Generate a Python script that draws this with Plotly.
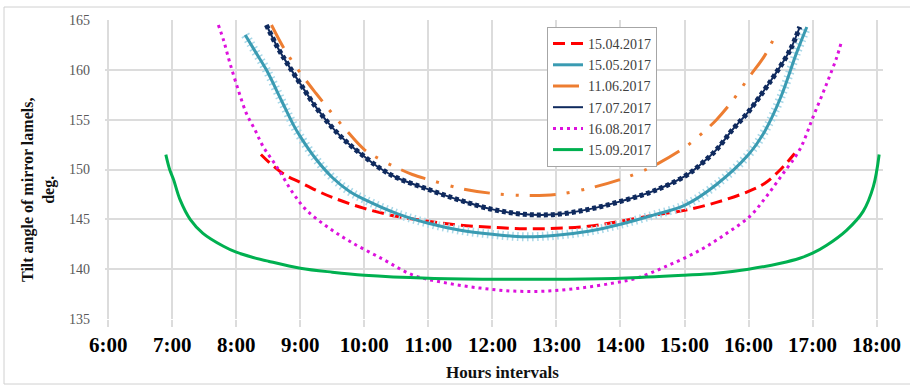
import plotly.graph_objects as go

# ---- data (hours as decimal, tilt angle in degrees) ----
hour_ticks = [6, 7, 8, 9, 10, 11, 12, 13, 14, 15, 16, 17, 18]
hour_labels = ["6:00", "7:00", "8:00", "9:00", "10:00", "11:00", "12:00",
               "13:00", "14:00", "15:00", "16:00", "17:00", "18:00"]

t_0415 = [8.385, 8.5, 8.75, 9.0, 9.25, 9.5, 10.0, 10.5, 11.0, 11.5, 12.0, 12.5,
          13.0, 13.5, 14.0, 14.5, 15.0, 15.5, 16.0, 16.25, 16.5, 16.72]
v_0415 = [151.5, 150.8, 149.5, 148.7, 147.9, 147.2, 146.1, 145.3, 144.8, 144.4, 144.2, 144.05,
          144.1, 144.3, 144.8, 145.4, 145.9, 146.7, 147.8, 148.6, 150.0, 151.6]

t_0515 = [8.14, 8.3, 8.47, 8.7, 8.89, 9.0, 9.25, 9.5, 9.77, 10.0, 10.5, 11.0, 11.5, 12.0,
          12.5, 13.0, 13.5, 14.0, 14.5, 15.0, 15.5, 16.0, 16.25, 16.5, 16.75, 16.91]
v_0515 = [163.5, 161.8, 160.0, 157.0, 154.5, 153.3, 151.0, 149.2, 147.8, 147.0, 145.6, 144.6, 143.9, 143.5,
          143.25, 143.4, 143.8, 144.5, 145.4, 146.4, 148.5, 151.5, 153.8, 157.2, 161.7, 164.3]

t_0611 = [8.55, 8.75, 9.0, 9.25, 9.5, 9.75, 10.0, 10.25, 10.5, 10.75, 11.0, 11.5, 12.0, 12.5,
          13.0, 13.5, 14.0, 14.25, 14.5, 15.0, 15.25, 15.5, 15.75, 16.0, 16.25, 16.45]
v_0611 = [164.5, 162.1, 159.7, 157.6, 155.6, 153.7, 152.0, 151.0, 150.2, 149.5, 149.0, 148.1, 147.6, 147.4,
          147.5, 148.1, 149.0, 149.6, 150.3, 152.2, 153.5, 155.0, 156.9, 159.2, 161.4, 163.9]

t_0717 = [8.47, 8.65, 8.8, 9.0, 9.25, 9.5, 9.75, 10.0, 10.25, 10.5, 11.0, 11.5, 12.0, 12.5,
          13.0, 13.5, 14.0, 14.5, 15.0, 15.25, 15.5, 15.75, 16.0, 16.25, 16.4, 16.65, 16.8]
v_0717 = [164.5, 162.2, 160.6, 158.6, 156.2, 154.2, 152.6, 151.3, 150.1, 149.2, 148.0, 146.9, 146.0, 145.5,
          145.5, 146.0, 146.8, 147.8, 149.3, 150.5, 152.0, 154.0, 155.8, 158.0, 159.4, 162.0, 164.3]

t_0816 = [7.72, 7.80, 7.90, 8.03, 8.16, 8.29, 8.42, 8.63, 8.89, 9.10, 9.41, 9.77, 10.29, 10.76,
          11.29, 11.81, 12.32, 12.85, 13.37, 13.88, 14.25, 14.72, 15.24, 15.66, 16.02, 16.28,
          16.54, 16.80, 17.01, 17.22, 17.38, 17.45]
v_0816 = [164.5, 163.0, 160.7, 158.0, 155.6, 154.0, 152.3, 150.3, 147.6, 145.9, 144.3, 142.8, 141.0, 139.4,
          138.6, 138.1, 137.8, 137.8, 138.1, 138.6, 139.1, 140.3, 141.9, 143.6, 145.3, 147.3,
          149.6, 152.0, 155.3, 158.6, 161.3, 162.8]

t_0915 = [6.9, 6.96, 7.02, 7.12, 7.28, 7.48, 7.8, 8.0, 8.25, 8.5, 9.0, 9.5, 10.0, 11.0, 12.0,
          13.0, 14.0, 15.0, 15.5, 16.0, 16.5, 16.8, 17.0, 17.22, 17.53, 17.79, 17.95, 18.04]
v_0915 = [151.5, 150.0, 149.0, 147.0, 145.0, 143.6, 142.3, 141.7, 141.2, 140.8, 140.1, 139.7, 139.4, 139.1, 139.0,
          139.0, 139.1, 139.4, 139.6, 140.0, 140.6, 141.1, 141.6, 142.4, 143.9, 145.8, 148.3, 151.5]

SERIF = "Liberation Serif"

fig = go.Figure()

# 15.04.2017 red dashed
fig.add_trace(go.Scatter(x=t_0415, y=v_0415, mode="lines", name="15.04.2017",
                         line=dict(color="#ff0000", width=3, dash="12px,6px", shape="spline")))
# 15.05.2017 teal with light-blue cross halo
fig.add_trace(go.Scatter(x=t_0515, y=v_0515, mode="lines", showlegend=False, hoverinfo="skip",
                         line=dict(color="#a9d8e8", width=9, dash="1.5px,3.5px", shape="spline")))
fig.add_trace(go.Scatter(x=t_0515, y=v_0515, mode="lines", name="15.05.2017",
                         line=dict(color="#3a9bb2", width=3, shape="spline")))
# 11.06.2017 orange dash-dot-dot
fig.add_trace(go.Scatter(x=t_0611, y=v_0611, mode="lines", name="11.06.2017",
                         line=dict(color="#ed7d31", width=3,
                                   dash="26px,11px,3px,12px,3px,11px", shape="spline")))
# 17.07.2017 navy with dots
fig.add_trace(go.Scatter(x=t_0717, y=v_0717, mode="lines", name="17.07.2017",
                         line=dict(color="#0f2a5e", width=2, shape="spline")))
fig.add_trace(go.Scatter(x=t_0717, y=v_0717, mode="lines", showlegend=False, hoverinfo="skip",
                         line=dict(color="#0f2a5e", width=5, dash="4px,3px", shape="spline")))
# 16.08.2017 magenta dotted
fig.add_trace(go.Scatter(x=t_0816, y=v_0816, mode="lines", name="16.08.2017",
                         line=dict(color="#dd11dd", width=3, dash="3px,4px", shape="spline")))
# 15.09.2017 green solid
fig.add_trace(go.Scatter(x=t_0915, y=v_0915, mode="lines", name="15.09.2017",
                         line=dict(color="#00b050", width=3, shape="spline")))

W, H = 910, 388
ML, MR, MT, MB = 105, 27, 20, 69
pw = W - ML - MR
ph = H - MT - MB


def px_x(p):
    return (p - ML) / pw


def px_y(p):
    return (H - MB - p) / ph


fig.update_layout(
    width=W, height=H,
    margin=dict(l=ML, r=MR, t=MT, b=MB, autoexpand=False),
    paper_bgcolor="white", plot_bgcolor="white",
    font=dict(family=SERIF, color="black"),
    legend=dict(x=px_x(547), y=px_y(27), xanchor="left", yanchor="top",
                bgcolor="white", bordercolor="#a6a6a6", borderwidth=1,
                font=dict(family=SERIF, size=14, color="#404040"),
                traceorder="normal", tracegroupgap=0),
    xaxis=dict(range=[5.95, 18.1], tickmode="array", tickvals=hour_ticks, ticktext=hour_labels,
               automargin=False,
               showgrid=True, gridcolor="#dcdcdc", gridwidth=1.5, zeroline=False,
               ticks="outside", ticklen=7, tickcolor="#dcdcdc", tickwidth=1.5,
               showline=False,
               tickfont=dict(family=SERIF, size=21, color="black", weight="bold")),
    yaxis=dict(range=[135, 165], tickmode="linear", tick0=135, dtick=5,
               automargin=False,
               showgrid=True, gridcolor="#dcdcdc", gridwidth=1.5, zeroline=False,
               showline=False, ticks="", ticklabelstandoff=14,
               tickfont=dict(family=SERIF, size=14, color="#595959")),
    annotations=[
        dict(text="<b>Tilt angle of mirror lamels,<br>deg.</b>", textangle=-90,
             xref="paper", yref="paper", x=px_x(38), y=px_y(190),
             xanchor="center", yanchor="middle", showarrow=False,
             font=dict(family=SERIF, size=16, color="#111111")),
        dict(text="<b>Hours intervals</b>",
             xref="paper", yref="paper", x=px_x(503), y=px_y(372),
             xanchor="center", yanchor="middle", showarrow=False,
             font=dict(family=SERIF, size=17, color="#111111")),
    ],
    shapes=[dict(type="rect", xref="paper", yref="paper",
                 x0=px_x(4), x1=px_x(912), y0=px_y(384), y1=px_y(7),
                 line=dict(color="#d0d0d0", width=1), layer="below")],
)

fig.write_html("out.html", config={"displayModeBar": False},
               post_script="document.body.style.margin='0';document.body.style.overflow='hidden';")
